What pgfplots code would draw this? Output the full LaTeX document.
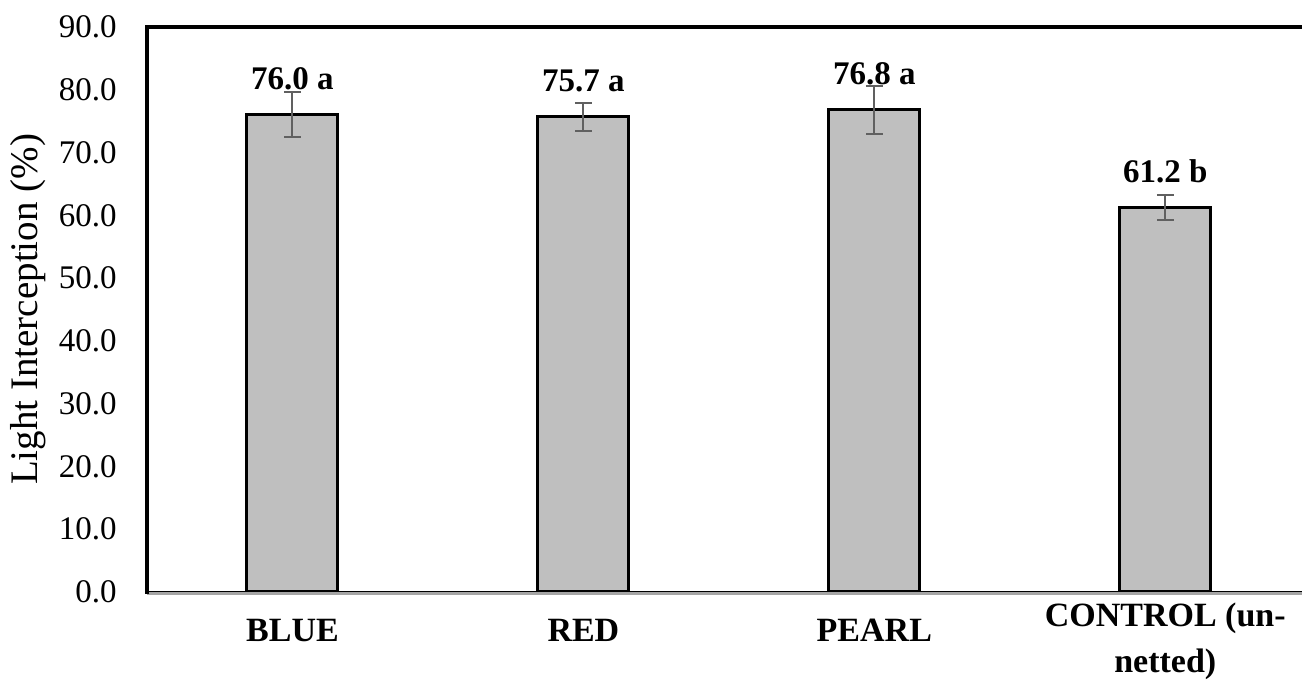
\documentclass[border=0pt]{standalone}
\usepackage{fontspec}
\setmainfont{Liberation Serif}
\usepackage{pgfplots}
\pgfplotsset{compat=1.18}
\definecolor{barfill}{RGB}{191,191,191}
\definecolor{errcol}{RGB}{96,96,96}
\definecolor{basegray}{RGB}{165,165,165}
\begin{document}
\begin{tikzpicture}
\useasboundingbox (-73.5pt,-46pt) rectangle (577.5pt,296pt);
\begin{axis}[
  at={(0,0)}, anchor=south west,
  scale only axis, width=577.5pt, height=282.5pt,
  xmin=-0.5, xmax=3.47, ymin=0, ymax=90,
  clip=false,
  axis line style={draw=none},
  ytick={0,10,...,90},
  xtick={0,1,2,3},
  xticklabels={BLUE,RED,PEARL,{\raisebox{7.5pt}[0pt][0pt]{\begin{tabular}[t]{@{}c@{}}CONTROL (un-\\[2.6pt]netted)\end{tabular}}}},
  major tick length=0pt,
  tick style={draw=none},
  yticklabel style={/pgf/number format/.cd, fixed, fixed zerofill, precision=1, assume math mode=true, /tikz/.cd,
    font=\fontsize{16.5}{19}\selectfont, anchor=east, inner sep=0pt, xshift=-15pt},
  xticklabel style={font=\bfseries\fontsize{17}{20.4}\selectfont, anchor=base, inner sep=0pt, yshift=-25pt},
  ylabel={Light Interception (\%)},
  ylabel style={at={(axis description cs:-0.0952,0.5)}, anchor=base, rotate=0, font=\fontsize{19.5}{23}\selectfont},
  nodes near coords,
  point meta=explicit symbolic,
  every node near coord/.append style={font=\bfseries\fontsize{16.5}{19}\selectfont, anchor=base, yshift=12.5pt, inner sep=0pt, text=black},
]
\addplot[ybar, bar width=45.5pt, fill=barfill, draw=black, line width=1.5pt,
  error bars/.cd, y dir=both, y explicit,
  error bar style={errcol, line width=1pt},
  error mark options={errcol, line width=1pt, mark size=4.25pt, rotate=90}]
  table[x=x, y=y, y error=e, meta=lab, col sep=comma, row sep=\\] {
x,y,e,lab\\
0,76.0,3.6,76.0 a\\
1,75.7,2.2,75.7 a\\
2,76.8,3.8,76.8 a\\
3,61.2,2.0,61.2 b\\
};
\draw[basegray, line width=1.6pt] ([yshift=-0.6pt]rel axis cs:0,0) -- ([yshift=-0.6pt]rel axis cs:1,0);
\draw[black, line width=0.6pt] ([yshift=0.3pt]rel axis cs:0,0) -- ([yshift=0.3pt]rel axis cs:1,0);
\draw[black, line width=2pt] ([yshift=-1pt]rel axis cs:0,0) -- (rel axis cs:0,1) -- (rel axis cs:1,1);
\end{axis}
\end{tikzpicture}
\end{document}
